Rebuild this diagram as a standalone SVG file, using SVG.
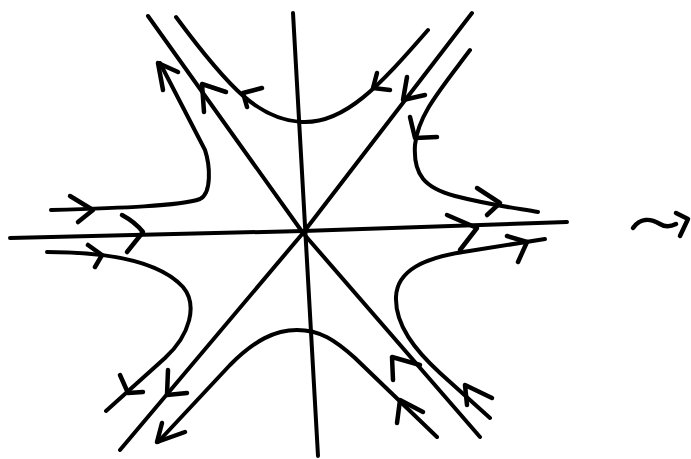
<svg xmlns="http://www.w3.org/2000/svg" width="691" height="459" viewBox="0 0 691 459">
<style>
.s{fill:none;stroke:#000;stroke-width:4;stroke-linecap:round;stroke-linejoin:round}
.a{fill:none;stroke:#000;stroke-width:4.5;stroke-linecap:round;stroke-linejoin:round}
</style>
<rect width="691" height="459" fill="#fff"/>
<g id="axes">
<path class="s" d="M293,13 L318,456"/>
<path class="s" d="M10,238 L303,231 L567,222"/>
<path class="s" d="M148,16 L303,233 L480,437"/>
<path class="s" d="M472,13 L303,233 L120,450"/>
</g>
<g id="trajectories">
<path class="s" d="M176,17 C230,90 260,120 302,122 C345,124 380,85 428,30"/>
<path class="s" d="M51,210 C120,208 180,206 200,199 C212,193 210,165 205,150 L160,63"/>
<path class="s" d="M47,252 C110,252 160,262 183,287 C198,305 190,335 165,358 L106,411"/>
<path class="s" d="M158,442 L230,365 C255,340 275,330 297,330 C320,330 335,340 355,358 L437,437"/>
<path class="s" d="M470,50 C440,90 418,115 415,145 C413,175 425,188 455,196 C490,205 515,208 538,212"/>
<path class="s" d="M545,239 L463,252 C425,258 397,270 396,297 C395,325 415,350 440,373 L490,418"/>
</g>
<g id="arrows">
<path class="a" d="M262,88 L243,93 L247,107"/>
<path class="a" d="M377,73 L373,88 L390,90"/>
<path class="a" d="M226,92 L202,84 L204,112"/>
<path class="a" d="M178,72 L158,63 L163,90"/>
<path class="a" d="M407,77 L403,100 L425,95"/>
<path class="a" d="M410,117 L415,138 L437,137"/>
<path class="a" d="M477,188 L500,203 L487,215"/>
<path class="a" d="M447,215 L477,228 L460,250"/>
<path class="a" d="M507,236 L527,242 L518,262"/>
<path class="a" d="M492,398 L465,385 L467,405"/>
<path class="a" d="M420,365 L392,357 L393,380"/>
<path class="a" d="M423,412 L400,400 L397,423"/>
<path class="a" d="M185,432 L157,442 L162,423"/>
<path class="a" d="M187,393 L167,395 L168,370"/>
<path class="a" d="M143,392 L128,393 L120,375"/>
<path class="a" d="M88,245 L102,255 L95,267"/>
<path class="a" d="M122,215 Q135,222 143,232 L127,252"/>
<path class="a" d="M70,196 L93,210 L78,222"/>
</g>
<g id="squiggle">
<path class="a" d="M633,228 C640,218 650,218 660,224 C665,227 670,227 676,224"/>
<path class="a" d="M676,213 L688,219 L680,236"/>
</g>
</svg>
